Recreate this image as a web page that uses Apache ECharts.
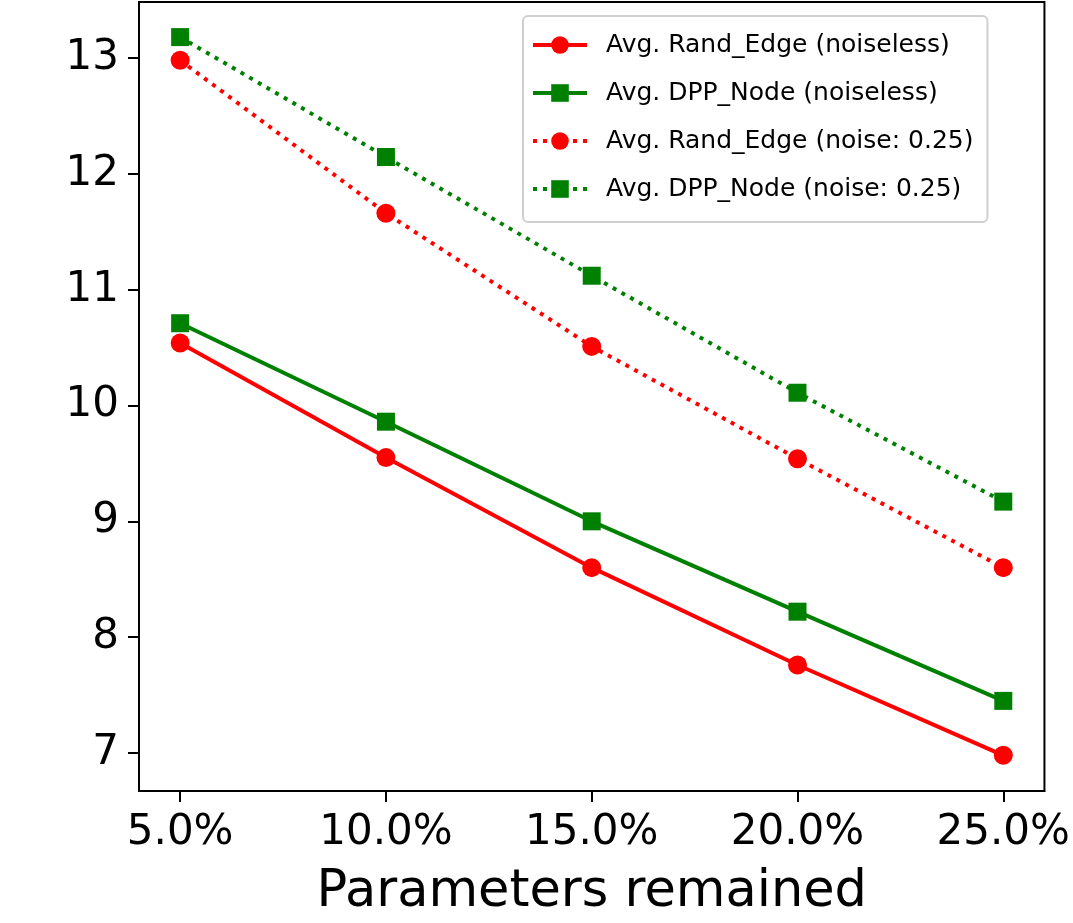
<!DOCTYPE html>
<html>
<head>
<meta charset="utf-8">
<script src="https://cdn.jsdelivr.net/npm/echarts@6/dist/echarts.min.js"></script>
<style>
  html, body { margin: 0; padding: 0; background: #fff; }
  #main { width: 1073px; height: 923px; }
</style>
</head>
<body>
<div id="main"></div>
<script>
// parameters remained (%)
const xValues = [5, 10, 15, 20, 25];
const xTicks = [5, 10, 15, 20, 25];
const yTicks = [7, 8, 9, 10, 11, 12, 13];

const randEdgeNoiseless = [10.54, 9.55, 8.60, 7.76, 6.98];
const dppNodeNoiseless = [10.71, 9.86, 9.00, 8.22, 7.45];
const randEdgeNoise = [12.98, 11.66, 10.51, 9.54, 8.60];
const dppNodeNoise = [13.18, 12.145, 11.12, 10.11, 9.17];

const chart = echarts.init(document.getElementById('main'));

// 把x和y拼成点
const toPairs = (ys) => ys.map((v, i) => [xValues[i], v]);

const mkSeries = (name, ys, color, symbol, size, dotted) => ({
    name: name,
    type: 'line',
    data: toPairs(ys),
    symbol: symbol,
    symbolSize: size,
    itemStyle: { color: color },
    lineStyle: {
        color: color,
        width: 4,
        type: dotted ? [4, 6] : 'solid',
        cap: 'butt'
    },
    emphasis: { disabled: true }
});

const font = 'DejaVu Sans';

const option = {
    animation: false,
    grid: {
        left: 139,
        right: 25,
        top: 2,
        bottom: 132,
        show: true,
        borderColor: '#000',
        borderWidth: 2
    },
    legend: {
        orient: 'vertical',
        left: 523,
        top: 16,
        padding: [14, 14, 18, 8],
        itemWidth: 54,
        itemHeight: 22,
        itemGap: 18,
        borderColor: '#d0d0d0',
        borderWidth: 2,
        borderRadius: 5,
        backgroundColor: '#fff',
        lineStyle: { width: 4 },
        textStyle: {
            fontFamily: font,
            fontSize: 25,
            lineHeight: 30,
            color: '#000',
            padding: [0, 0, 0, 14]
        }
    },
    xAxis: {
        type: 'value',
        min: 4,
        max: 26,
        name: 'Parameters remained',
        nameLocation: 'middle',
        nameGap: 76,
        nameTextStyle: { fontFamily: font, fontSize: 51, color: '#000' },
        splitLine: { show: false },
        axisLine: { lineStyle: { color: '#000', width: 2 } },
        axisTick: {
            show: true,
            length: 11,
            lineStyle: { color: '#000', width: 2 },
            customValues: xTicks
        },
        axisLabel: {
            fontFamily: font,
            fontSize: 42,
            color: '#000',
            margin: 21,
            customValues: xTicks,
            formatter: (v) => v.toFixed(1) + '%'
        }
    },
    yAxis: {
        type: 'value',
        min: 6.672,
        max: 13.483,
        splitLine: { show: false },
        axisLine: { show: true, lineStyle: { color: '#000', width: 2 } },
        axisTick: {
            show: true,
            length: 11,
            lineStyle: { color: '#000', width: 2 },
            customValues: yTicks
        },
        axisLabel: {
            fontFamily: font,
            fontSize: 42,
            color: '#000',
            margin: 20,
            customValues: yTicks
        }
    },
    series: [
        mkSeries('Avg. Rand_Edge (noiseless)', randEdgeNoiseless, '#ff0000', 'circle', 19, false),
        mkSeries('Avg. DPP_Node (noiseless)', dppNodeNoiseless, '#008000', 'rect', 18, false),
        mkSeries('Avg. Rand_Edge (noise: 0.25)', randEdgeNoise, '#ff0000', 'circle', 19, true),
        mkSeries('Avg. DPP_Node (noise: 0.25)', dppNodeNoise, '#008000', 'rect', 18, true)
    ]
};

chart.setOption(option);
</script>
</body>
</html>
